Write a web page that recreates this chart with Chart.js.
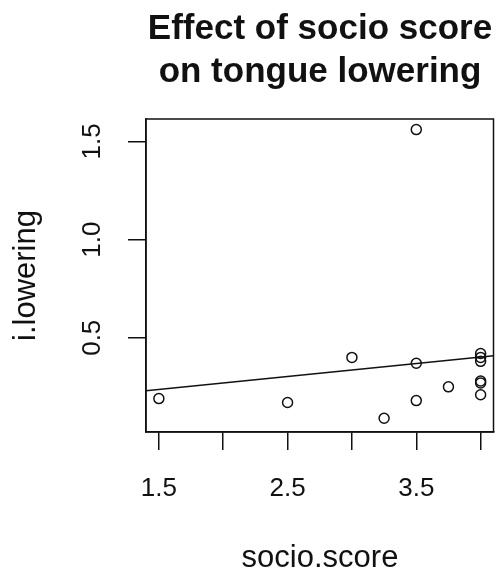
<!DOCTYPE html>
<html>
<head>
<meta charset="utf-8">
<script src="https://cdn.jsdelivr.net/npm/chart.js@4"></script>
<style>
  html, body { margin: 0; padding: 0; background: #fff; }
  canvas { display: block; }
</style>
</head>
<body>
<canvas id="chart" width="500" height="574"></canvas>
<script>
// data
const socioScore = [1.5, 2.5, 3.0, 3.25, 3.5, 3.5, 3.5, 3.75, 4.0, 4.0, 4.0, 4.0, 4.0, 4.0];
const lowering   = [0.19, 0.17, 0.40, 0.09, 1.56, 0.37, 0.18, 0.25, 0.42, 0.40, 0.38, 0.28, 0.27, 0.21];

// fitted line (ends at the plot edges)
const fitX = [1.4, 4.1];
const fitY = [0.23, 0.408];

const xTicks = [1.5, 2.0, 2.5, 3.0, 3.5, 4.0];
const xTickLabels = ['1.5', '', '2.5', '', '3.5', ''];
const yTicks = [0.5, 1.0, 1.5];
const yTickLabels = ['0.5', '1.0', '1.5'];

const titleLines = ['Effect of socio score', 'on tongue lowering'];
const xTitle = 'socio.score';
const yTitle = 'i.lowering';

const FONT = '"Liberation Sans", Arial, sans-serif';

// texts + box drawn like base R graphics
const rStyle = {
    id: 'rStyle',
    afterDraw(chart) {
        const ctx = chart.ctx;
        const area = chart.chartArea;
        const xs = chart.scales.x;
        const ys = chart.scales.y;
        ctx.save();
        ctx.strokeStyle = '#111';
        ctx.lineWidth = 1.5;
        ctx.strokeRect(area.left, area.top, area.right - area.left, area.bottom - area.top);

        ctx.fillStyle = '#111';
        // title
        ctx.font = 'bold 35px ' + FONT;
        ctx.textAlign = 'center';
        ctx.textBaseline = 'alphabetic';
        ctx.fillText(titleLines[0], 320, 39);
        ctx.fillText(titleLines[1], 320, 82);

        // x tick labels
        ctx.font = '26px ' + FONT;
        xTicks.forEach((v, i) => {
            if (xTickLabels[i]) ctx.fillText(xTickLabels[i], xs.getPixelForValue(v), 496);
        });
        // x title
        ctx.font = '31px ' + FONT;
        ctx.fillText(xTitle, 320, 567);

        // y tick labels (rotated)
        ctx.font = '26px ' + FONT;
        yTicks.forEach((v, i) => {
            ctx.save();
            ctx.translate(100, ys.getPixelForValue(v));
            ctx.rotate(-Math.PI / 2);
            ctx.fillText(yTickLabels[i], 0, 0);
            ctx.restore();
        });
        // y title
        ctx.font = '31px ' + FONT;
        ctx.save();
        ctx.translate(35, (area.top + area.bottom) / 2);
        ctx.rotate(-Math.PI / 2);
        ctx.fillText(yTitle, 0, 0);
        ctx.restore();
        ctx.restore();
    }
};

new Chart(document.getElementById('chart'), {
    type: 'scatter',
    data: {
        datasets: [
            {
                label: 'points',
                data: socioScore.map((x, i) => ({ x: x, y: lowering[i] })),
                pointStyle: 'circle',
                pointRadius: 5,
                pointBorderWidth: 1.5,
                borderColor: '#111',
                backgroundColor: 'rgba(0,0,0,0)'
            },
            {
                label: 'fit',
                type: 'line',
                data: fitX.map((x, i) => ({ x: x, y: fitY[i] })),
                borderColor: '#111',
                borderWidth: 1.5,
                pointRadius: 0,
                fill: false
            }
        ]
    },
    options: {
        responsive: false,
        animation: false,
        layout: { padding: { top: 119, right: 2, left: 0, bottom: 0 } },
        plugins: {
            legend: { display: false },
            tooltip: { enabled: false }
        },
        scales: {
            x: {
                type: 'linear',
                min: 1.4,
                max: 4.1,
                afterBuildTicks: (scale) => { scale.ticks = xTicks.map(v => ({ value: v })); },
                afterFit: (scale) => { scale.height = 142; },
                ticks: { display: false },
                grid: { drawOnChartArea: false, drawTicks: true, tickLength: 18, color: '#111', lineWidth: 1.5 },
                border: { display: true, color: '#111', width: 1.5 }
            },
            y: {
                type: 'linear',
                min: 0.02,
                max: 1.614,
                afterBuildTicks: (scale) => { scale.ticks = yTicks.map(v => ({ value: v })); },
                afterFit: (scale) => { scale.width = 146; },
                ticks: { display: false },
                grid: { drawOnChartArea: false, drawTicks: true, tickLength: 18, color: '#111', lineWidth: 1.5 },
                border: { display: true, color: '#111', width: 1.5 }
            }
        }
    },
    plugins: [rStyle]
});
</script>
</body>
</html>
